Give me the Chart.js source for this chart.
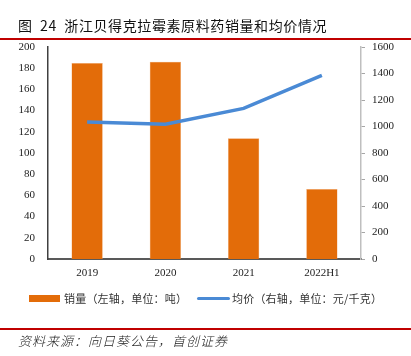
<!DOCTYPE html>
<html>
<head>
<meta charset="utf-8">
<script src="https://cdn.jsdelivr.net/npm/chart.js@4/dist/chart.umd.min.js"></script>
<style>
  html, body { margin: 0; padding: 0; background: #fff; }
  #wrap { position: relative; width: 411px; height: 356px; overflow: hidden; font-family: "Noto Sans CJK SC", sans-serif; }
  #chartBox { position: absolute; left: 0; top: 0; width: 411px; height: 356px; }
  .title { position: absolute; left: 18px; top: 16px; font-size: 14px; color: #111; white-space: nowrap; line-height: 18px; letter-spacing: 0.6px; }
  .redline { position: absolute; left: 0; width: 411px; height: 2px; background: #C00000; }
  .legend { position: absolute; top: 290px; font-size: 11px; color: #333; white-space: nowrap; line-height: 16px; letter-spacing: 0.2px; }
  .swatch { position: absolute; }
  .source { position: absolute; left: 18px; top: 332px; font-size: 13px; font-style: italic; color: #222; white-space: nowrap; line-height: 18px; letter-spacing: 1px; font-weight: 300; }
</style>
</head>
<body>
<div id="wrap">
  <div id="chartBox"><canvas id="c" width="411" height="356"></canvas></div>
  <div class="title">图&nbsp;&nbsp;24&nbsp;&nbsp;浙江贝得克拉霉素原料药销量和均价情况</div>
  <div class="redline" style="top:38px;"></div>
  <div class="swatch" style="left:29px; top:295px; width:31px; height:7px; background:#E36C09;"></div>
  <div class="legend" style="left:64px;">销量（左轴，单位：吨）</div>
  <div class="swatch" style="left:197px; top:297px; width:33px; height:3px; background:#4A8AD5; border-radius:2px;"></div>
  <div class="legend" style="left:232px;">均价（右轴，单位：元/千克）</div>
  <div class="redline" style="top:328px;"></div>
  <div class="source">资料来源：向日葵公告，首创证券</div>
</div>
<script>
const categories = ['2019', '2020', '2021', '2022H1'];
const salesTons = [185, 186, 114, 66];
const avgPrice = [1034, 1017, 1137, 1385];
const leftTicks = [0, 20, 40, 60, 80, 100, 120, 140, 160, 180, 200];
const rightTicks = [0, 200, 400, 600, 800, 1000, 1200, 1400, 1600];

const tickFont = { family: 'Liberation Serif', size: 11 };

new Chart(document.getElementById('c'), {
  type: 'bar',
  data: {
    labels: categories,
    datasets: [
      {
        type: 'line',
        label: '均价（右轴，单位：元/千克）',
        data: avgPrice,
        yAxisID: 'y1',
        borderColor: '#4A8AD5',
        borderWidth: 3.5,
        pointRadius: 0,
        tension: 0,
        order: 0
      },
      {
        type: 'bar',
        label: '销量（左轴，单位：吨）',
        data: salesTons,
        yAxisID: 'y',
        backgroundColor: '#E36C09',
        borderColor: '#F0A870',
        borderWidth: 0.5,
        barPercentage: 0.4,
        categoryPercentage: 1,
        order: 1
      }
    ]
  },
  options: {
    responsive: false,
    animation: false,
    devicePixelRatio: 1,
    layout: { padding: { top: 47, bottom: 66, left: 0, right: 0 } },
    plugins: { legend: { display: false }, tooltip: { enabled: false } },
    scales: {
      x: {
        grid: { display: false, drawTicks: false },
        border: { display: true, color: '#595959', width: 2 },
        ticks: { font: tickFont, color: '#222', padding: 8, maxRotation: 0 },
        afterFit: s => { s.height = 31; }
      },
      y: {
        position: 'left',
        min: 0, max: 200,
        afterBuildTicks: s => { s.ticks = leftTicks.map(v => ({ value: v })); },
        grid: { display: false, drawTicks: false },
        border: { display: true, color: '#404040', width: 1.5 },
        ticks: { font: tickFont, color: '#222', padding: 13, callback: v => String(v) },
        afterFit: s => { s.width = 48; }
      },
      y1: {
        position: 'right',
        min: 0, max: 1600,
        afterBuildTicks: s => { s.ticks = rightTicks.map(v => ({ value: v })); },
        grid: { display: true, drawOnChartArea: false, drawTicks: true, tickLength: 4, color: '#A6A6A6' },
        border: { display: true, color: '#BFBFBF', width: 1.5 },
        ticks: { font: tickFont, color: '#222', padding: 7, callback: v => String(v) },
        afterFit: s => { s.width = 50; }
      }
    }
  }
});
</script>
</body>
</html>
